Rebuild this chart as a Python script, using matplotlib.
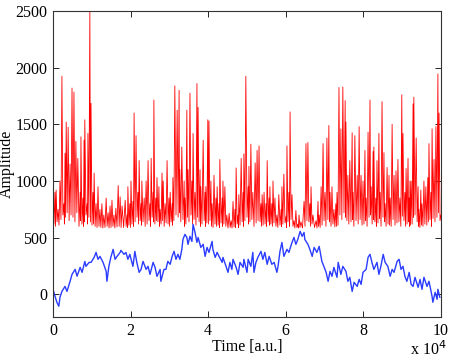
import numpy as np
import matplotlib
matplotlib.use('Agg')
import matplotlib.pyplot as plt

plt.rcParams['font.family'] = ['Liberation Serif', 'DejaVu Serif']

# red trace: peak times (x 10^4 a.u.), peak amplitudes and the floor after each peak
red_t = [0.00, 0.05, 0.08, 0.13, 0.18, 0.23, 0.28, 0.31, 0.34, 0.39,
         0.44, 0.49, 0.54, 0.59, 0.64, 0.70, 0.72, 0.77, 0.80, 0.82,
         0.88, 0.90, 0.95, 0.98, 1.03, 1.06, 1.11, 1.16, 1.21, 1.26,
         1.31, 1.37, 1.42, 1.47, 1.52, 1.57, 1.62, 1.68, 1.73, 1.78,
         1.86, 1.91, 1.93, 1.98, 2.01, 2.06, 2.09, 2.14, 2.19, 2.22,
         2.27, 2.29, 2.35, 2.40, 2.45, 2.50, 2.53, 2.58, 2.60, 2.65,
         2.68, 2.73, 2.76, 2.81, 2.84, 2.89, 2.94, 2.99, 3.02, 3.07,
         3.09, 3.14, 3.20, 3.25, 3.27, 3.32, 3.38, 3.40, 3.45, 3.48,
         3.53, 3.58, 3.61, 3.66, 3.71, 3.74, 3.79, 3.81, 3.87, 3.92,
         3.94, 3.99, 4.02, 4.07, 4.10, 4.15, 4.20, 4.23, 4.28, 4.30,
         4.36, 4.38, 4.43, 4.48, 4.54, 4.59, 4.64, 4.69, 4.72, 4.77,
         4.79, 4.85, 4.90, 4.92, 4.97, 5.03, 5.05, 5.10, 5.15, 5.21,
         5.26, 5.31, 5.36, 5.39, 5.44, 5.49, 5.52, 5.57, 5.59, 5.64,
         5.67, 5.72, 5.77, 5.82, 5.88, 5.90, 5.95, 6.01, 6.03, 6.08,
         6.11, 6.16, 6.21, 6.26, 6.31, 6.34, 6.39, 6.47, 6.52, 6.57,
         6.62, 6.65, 6.70, 6.78, 6.83, 6.86, 6.91, 6.96, 7.01, 7.06,
         7.11, 7.14, 7.19, 7.24, 7.29, 7.32, 7.37, 7.42, 7.47, 7.53,
         7.55, 7.60, 7.65, 7.71, 7.73, 7.78, 7.84, 7.89, 7.94, 7.99,
         8.04, 8.07, 8.12, 8.17, 8.20, 8.25, 8.27, 8.32, 8.35, 8.40,
         8.43, 8.48, 8.53, 8.56, 8.61, 8.66, 8.69, 8.74, 8.79, 8.84,
         8.89, 8.94, 8.99, 9.02, 9.07, 9.10, 9.15, 9.18, 9.20, 9.23,
         9.28, 9.30, 9.36, 9.41, 9.43, 9.48, 9.51, 9.56, 9.61, 9.66,
         9.69, 9.74, 9.77, 9.82, 9.87, 9.92, 9.95, 10.00]
red_peak = [700, 900, 920, 750, 1000, 1925, 800, 1245, 1520, 1475,
            1150, 1820, 1785, 1350, 1200, 900, 1390, 850, 1360, 1540,
            800, 1420, 2520, 1685, 900, 1070, 800, 950, 750, 800,
            700, 850, 720, 780, 830, 700, 760, 960, 860, 780,
            830, 700, 950, 800, 1000, 820, 1600, 1400, 900, 1180,
            800, 1000, 850, 1000, 1180, 800, 1200, 900, 1715, 850,
            1030, 950, 750, 1070, 1000, 800, 1180, 850, 900, 800,
            1030, 1840, 1625, 1800, 1100, 1300, 1000, 850, 1625, 1100,
            1775, 1000, 1420, 900, 1860, 1650, 1100, 950, 1360, 900,
            950, 1540, 1530, 1000, 800, 1050, 850, 950, 800, 1190,
            850, 1000, 950, 700, 715, 650, 820, 750, 1115, 700,
            880, 1200, 900, 1240, 1925, 950, 1130, 1325, 900, 1160,
            1270, 1310, 800, 880, 900, 800, 1180, 850, 950, 800,
            1000, 850, 700, 880, 750, 950, 1060, 690, 1310, 900,
            1610, 880, 650, 740, 620, 700, 640, 820, 1330, 1340,
            800, 950, 700, 650, 820, 700, 950, 1330, 900, 1380,
            1490, 900, 950, 750, 800, 900, 1825, 1460, 1830, 1710,
            1520, 1050, 1180, 1425, 900, 1400, 1050, 1480, 1050, 1000,
            1270, 850, 1430, 1715, 950, 1260, 1300, 850, 1180, 1420,
            900, 1700, 1250, 800, 1120, 1050, 850, 1500, 1050, 1090,
            1190, 850, 1760, 1420, 900, 1110, 1200, 850, 1000, 1000,
            1680, 1740, 1380, 950, 750, 920, 800, 1000, 950, 1030,
            1330, 900, 1460, 1190, 1480, 1945, 1600, 700]
red_floor = [620, 600, 640, 610, 660, 700, 620, 680, 720, 650,
             700, 680, 640, 720, 600, 650, 620, 600, 640, 700,
             620, 680, 640, 610, 620, 600, 590, 600, 590, 585,
             590, 600, 585, 590, 600, 585, 595, 600, 590, 590,
             600, 590, 610, 590, 620, 600, 640, 680, 620, 650,
             610, 640, 600, 620, 650, 600, 680, 640, 620, 650,
             640, 600, 620, 650, 600, 630, 620, 600, 640, 610,
             650, 700, 680, 720, 640, 660, 600, 620, 680, 640,
             700, 620, 660, 610, 680, 640, 600, 620, 650, 600,
             630, 620, 650, 600, 590, 620, 600, 610, 590, 630,
             600, 620, 600, 585, 590, 585, 595, 590, 620, 590,
             610, 640, 600, 650, 680, 620, 640, 660, 600, 630,
             650, 640, 600, 610, 620, 600, 640, 610, 620, 600,
             630, 600, 590, 610, 595, 620, 630, 590, 640, 600,
             660, 600, 585, 590, 585, 590, 585, 600, 650, 640,
             600, 620, 590, 585, 600, 590, 610, 650, 600, 660,
             640, 600, 620, 595, 600, 610, 700, 660, 720, 680,
             650, 620, 640, 660, 600, 650, 620, 660, 610, 620,
             650, 600, 680, 700, 620, 660, 640, 600, 630, 670,
             600, 680, 640, 600, 620, 610, 600, 660, 610, 630,
             640, 600, 690, 650, 600, 620, 640, 600, 610, 620,
             680, 700, 640, 600, 590, 610, 600, 620, 610, 640,
             660, 600, 670, 640, 680, 720, 650, 620]

# blue trace
blue_t = [0.00, 0.05, 0.10, 0.15, 0.18, 0.23, 0.31, 0.36, 0.44, 0.49,
          0.57, 0.62, 0.70, 0.75, 0.82, 0.85, 0.93, 0.98, 1.06, 1.11,
          1.16, 1.21, 1.29, 1.37, 1.39, 1.44, 1.49, 1.55, 1.60, 1.65,
          1.73, 1.75, 1.83, 1.88, 1.93, 1.98, 2.06, 2.11, 2.16, 2.22,
          2.27, 2.32, 2.40, 2.45, 2.50, 2.58, 2.63, 2.68, 2.76, 2.78,
          2.86, 2.91, 2.96, 3.02, 3.07, 3.12, 3.17, 3.22, 3.27, 3.32,
          3.35, 3.40, 3.45, 3.48, 3.53, 3.58, 3.61, 3.66, 3.71, 3.74,
          3.81, 3.87, 3.92, 3.97, 4.02, 4.10, 4.12, 4.18, 4.23, 4.28,
          4.36, 4.38, 4.46, 4.51, 4.56, 4.61, 4.64, 4.72, 4.77, 4.82,
          4.90, 4.92, 5.00, 5.03, 5.10, 5.15, 5.18, 5.23, 5.28, 5.36,
          5.41, 5.46, 5.52, 5.57, 5.64, 5.70, 5.77, 5.80, 5.85, 5.90,
          5.95, 6.03, 6.08, 6.16, 6.21, 6.26, 6.31, 6.37, 6.42, 6.47,
          6.49, 6.57, 6.62, 6.68, 6.73, 6.80, 6.86, 6.93, 6.96, 7.04,
          7.09, 7.14, 7.19, 7.24, 7.32, 7.35, 7.42, 7.47, 7.55, 7.60,
          7.65, 7.71, 7.76, 7.84, 7.89, 7.94, 7.99, 8.07, 8.12, 8.17,
          8.22, 8.27, 8.35, 8.40, 8.45, 8.51, 8.56, 8.63, 8.69, 8.74,
          8.79, 8.87, 8.92, 8.97, 9.02, 9.07, 9.12, 9.18, 9.23, 9.28,
          9.33, 9.41, 9.46, 9.51, 9.56, 9.64, 9.69, 9.77, 9.79, 9.85,
          9.90, 9.92, 9.97]
blue_v = [44, -15, -70, -105, -26, 26, 70, 26, 115, 176,
          220, 160, 238, 194, 290, 247, 282, 282, 326, 370,
          309, 335, 282, 203, 115, 247, 326, 397, 309, 335,
          370, 388, 353, 370, 309, 353, 247, 379, 282, 194,
          220, 291, 220, 247, 176, 282, 238, 159, 220, 115,
          220, 220, 291, 265, 335, 379, 309, 353, 309, 397,
          485, 529, 502, 441, 512, 467, 617, 546, 458, 502,
          414, 441, 335, 414, 370, 467, 397, 326, 370, 335,
          282, 326, 247, 194, 282, 220, 309, 238, 176, 282,
          238, 309, 194, 309, 247, 370, 194, 282, 326, 379,
          309, 370, 265, 335, 265, 282, 194, 247, 379, 458,
          335, 397, 370, 458, 502, 441, 485, 556, 512, 546,
          485, 441, 397, 335, 414, 370, 423, 291, 265, 194,
          115, 203, 159, 238, 150, 282, 176, 247, 203, 115,
          150, 26, 106, 70, 132, 88, 194, 220, 326, 353,
          282, 220, 282, 176, 247, 353, 282, 247, 159, 220,
          194, 291, 309, 220, 247, 159, 115, 194, 88, 70,
          150, 62, 132, 44, 150, 70, 115, -18, -70, 18,
          -44, 44, -26]

n = min(len(red_t), len(red_peak), len(red_floor))
rt = []
rv = []
for i in range(n):
    rt.append(red_t[i])
    rv.append(red_peak[i])
    if i < n - 1:
        rt.append((red_t[i] + red_t[i + 1]) / 2)
        rv.append(red_floor[i])

fig = plt.figure(figsize=(4.52, 3.6), dpi=100)
ax = fig.add_axes([53 / 452, 43 / 360, 388 / 452, 306 / 360])
ax.plot(rt, rv, color='#ff0000', lw=0.6)
ax.plot(blue_t, blue_v, color='#2a3cff', lw=1.0)

ax.set_xlim(0, 10)
ax.set_ylim(-200, 2500)
ax.set_xticks([0, 2, 4, 6, 8, 10])
ax.set_yticks([0, 500, 1000, 1500, 2000, 2500])
ax.tick_params(direction='in', length=4, top=True, right=True, labelsize=11.5, width=0.6, pad=4)
for s in ax.spines.values():
    s.set_linewidth(0.8)
    s.set_color('#333333')
ax.set_xlabel('Time [a.u.]', fontsize=11.5, labelpad=0)
ax.set_ylabel('Amplitude', fontsize=11.5)
ax.yaxis.set_label_coords(-38 / 388, 0.5)
fig.text(428 / 452, 1 / 360, 'x 10$^{4}$', fontsize=11.5, ha='center', va='bottom')

fig.savefig('out.png', dpi=100)
